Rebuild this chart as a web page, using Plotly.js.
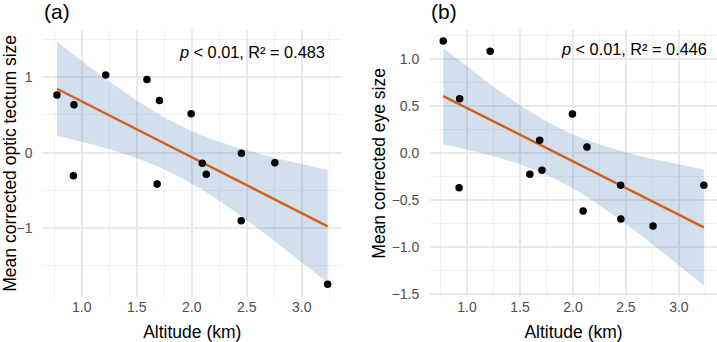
<!DOCTYPE html>
<html>
<head>
<meta charset="utf-8">
<script src="https://cdn.plot.ly/plotly-3.0.1.min.js"></script>
<style>
  html, body { margin: 0; padding: 0; background: #ffffff; }
  #chart { width: 717px; height: 342px; }
</style>
</head>
<body>
<div id="chart"></div>
<script>
// Site altitudes (km), shared by both panels
const altitude = [0.775, 0.925, 0.93, 1.218, 1.593, 1.686, 1.707, 1.995, 2.096, 2.132, 2.450, 2.452, 2.756, 3.236];
// (a) mean corrected optic tectum size per site
const tectumSize = [0.764, -0.305, 0.636, 1.03, 0.97, -0.415, 0.69, 0.517, -0.141, -0.286, -0.90, -0.008, -0.132, -1.743];
// (b) mean corrected eye size per site
const eyeSize = [1.195, -0.366, 0.581, 1.088, -0.223, 0.138, -0.181, 0.418, -0.614, 0.067, -0.340, -0.699, -0.773, -0.340];

const panelLabels = ['(a)', '(b)'];
const statLabels = ['<i>p</i> < 0.01, R² = 0.483', '<i>p</i> < 0.01, R² = 0.446'];
const yTitles = ['Mean corrected optic tectum size', 'Mean corrected eye size'];
const xTitle = 'Altitude (km)';

const W = 717, H = 342;
const FONT = 'Liberation Sans, Arial, Helvetica, sans-serif';
const RIBBON = 'rgba(70,130,180,0.25)';
const LINE = '#d35f1c';

// Ordinary least squares fit with a 95% confidence band (t, df = n - 2 = 12)
const T_CRIT = 2.1788;
function lmSmooth(xs, ys, xa, ya) {
  const n = xs.length;
  const mx = xs.reduce((s, v) => s + v, 0) / n;
  const my = ys.reduce((s, v) => s + v, 0) / n;
  let sxx = 0, sxy = 0;
  for (let i = 0; i < n; i++) { sxx += (xs[i] - mx) ** 2; sxy += (xs[i] - mx) * (ys[i] - my); }
  const b = sxy / sxx, a = my - b * mx;
  let sse = 0;
  for (let i = 0; i < n; i++) sse += (ys[i] - (a + b * xs[i])) ** 2;
  const s = Math.sqrt(sse / (n - 2));
  const lo = Math.min(...xs), hi = Math.max(...xs);
  const gx = [], fit = [], up = [], dn = [];
  const steps = 80;
  for (let k = 0; k <= steps; k++) {
    const x = lo + (hi - lo) * k / steps;
    const f = a + b * x;
    const se = s * Math.sqrt(1 / n + (x - mx) ** 2 / sxx);
    gx.push(x); fit.push(f); up.push(f + T_CRIT * se); dn.push(f - T_CRIT * se);
  }
  const band = {
    x: gx.concat(gx.slice().reverse()),
    y: up.concat(dn.slice().reverse()),
    xaxis: xa, yaxis: ya, type: 'scatter', mode: 'lines',
    fill: 'toself', fillcolor: RIBBON, line: { width: 0, color: 'rgba(0,0,0,0)' },
    hoverinfo: 'skip'
  };
  const line = {
    x: gx, y: fit, xaxis: xa, yaxis: ya, type: 'scatter', mode: 'lines',
    line: { color: LINE, width: 2.4 }
  };
  const pts = {
    x: xs, y: ys, xaxis: xa, yaxis: ya, type: 'scatter', mode: 'markers',
    marker: { color: '#000000', size: 7.5 }
  };
  return [band, line, pts];
}

const traces = [
  ...lmSmooth(altitude, tectumSize, 'x', 'y'),
  ...lmSmooth(altitude, eyeSize, 'x2', 'y2')
];

const grid = { showgrid: true, gridcolor: '#e9e9e9', gridwidth: 1.8, zeroline: false, showline: false,
  tickfont: { family: FONT, size: 14, color: '#4d4d4d' } };
const minorGrid = (d) => ({ dtick: d, tick0: 0, showgrid: true, gridcolor: '#f0f0f0', gridwidth: 0.9 });
const titleFont = { family: FONT, size: 17.5, color: '#000000' };

const xAxis = (domain, anchor) => Object.assign({}, grid, {
  domain: domain, anchor: anchor, range: [0.651, 3.36], dtick: 0.5, tick0: 0, tickformat: '.1f',
  ticks: '', minor: minorGrid(0.25),
  title: { text: xTitle, font: titleFont }
});
const yAxis = (domain, anchor, range, dtick, minorStep, fmt, title) => Object.assign({}, grid, {
  domain: domain, anchor: anchor, range: range, dtick: dtick, tick0: 0, tickformat: fmt,
  ticks: 'outside', ticklen: 7, tickcolor: 'rgba(0,0,0,0)',
  minor: minorGrid(minorStep),
  title: { text: title, font: titleFont }
});

const yDomain = [1 - 296.7 / H, 1 - 30 / H];
const layout = {
  width: W, height: H,
  margin: { l: 0, r: 0, t: 0, b: 0 },
  paper_bgcolor: '#ffffff', plot_bgcolor: '#ffffff',
  showlegend: false,
  font: { family: FONT },
  xaxis: xAxis([43.3 / W, 341.3 / W], 'y'),
  xaxis2: xAxis([430.1 / W, 1], 'y2'),
  yaxis: yAxis(yDomain, 'x', [-1.907, 1.625], 1, 0.5, '', yTitles[0]),
  yaxis2: yAxis(yDomain, 'x2', [-1.527, 1.313], 0.5, 0.25, '.1f', yTitles[1]),
  annotations: [
    { xref: 'paper', yref: 'paper', x: 42 / W, y: 1 - 11 / H, xanchor: 'left', yanchor: 'middle',
      text: panelLabels[0], showarrow: false, font: { family: FONT, size: 21, color: '#000000' } },
    { xref: 'paper', yref: 'paper', x: 429 / W, y: 1 - 11 / H, xanchor: 'left', yanchor: 'middle',
      text: panelLabels[1], showarrow: false, font: { family: FONT, size: 21, color: '#000000' } },
    { xref: 'paper', yref: 'paper', x: 327 / W, y: 1 - 51.5 / H, xanchor: 'right', yanchor: 'middle',
      text: statLabels[0], showarrow: false, font: { family: FONT, size: 16.3, color: '#000000' } },
    { xref: 'paper', yref: 'paper', x: 709 / W, y: 1 - 49 / H, xanchor: 'right', yanchor: 'middle',
      text: statLabels[1], showarrow: false, font: { family: FONT, size: 16.3, color: '#000000' } }
  ]
};

Plotly.newPlot('chart', traces, layout, { staticPlot: true, displayModeBar: false });
</script>
</body>
</html>
